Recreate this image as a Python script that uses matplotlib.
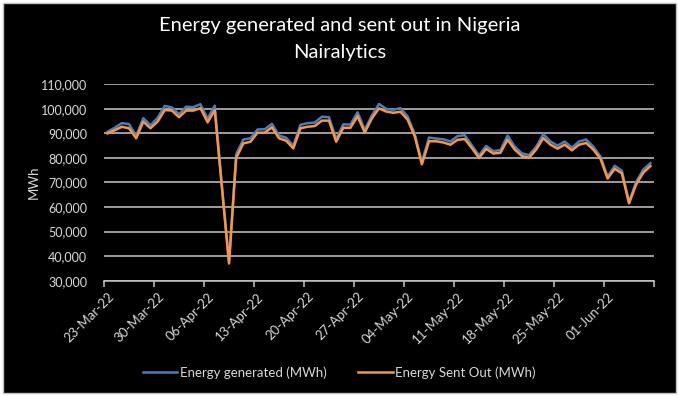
import matplotlib
matplotlib.use('Agg')
import matplotlib.pyplot as plt
from matplotlib.patches import Rectangle
import numpy as np
import pandas as pd

plt.rcParams['font.family'] = ['Lato', 'DejaVu Sans']

# daily values, 23-Mar-22 .. 07-Jun-22
start_date = '2022-03-23'
energy_generated = [
    90700, 92300, 94200, 93800, 89000, 96200, 93300, 96300, 101200, 100600,
    97800, 100900, 100700, 101900, 96000, 101300, 69000, 37600, 81500, 87500,
    88000, 91600, 91700, 93900, 89200, 88200, 85000, 93500, 94200, 94400,
    96800, 96600, 87700, 93700, 93600, 98600, 91400, 97300, 102000, 100000,
    99600, 100300, 96900, 89800, 78300, 88300, 87900, 87600, 86700, 88900,
    89300, 85100, 81000, 84900, 82800, 83200, 89100, 84600, 81900, 81200,
    84500, 89700, 86700, 85000, 86700, 84200, 86700, 87500, 84600, 80600,
    72400, 76800, 74800, 62100, 70200, 75300, 77900,
]
energy_sent_out = [
    90000, 91300, 92700, 92100, 88000, 94800, 92100, 94800, 99500, 99300,
    96600, 99300, 99300, 100300, 94500, 99500, 68000, 37000, 80000, 85900,
    86600, 90300, 90300, 92500, 88000, 87000, 83900, 92100, 92700, 93000,
    95200, 95200, 86600, 92300, 92300, 97000, 90400, 96100, 100200, 98900,
    98400, 98800, 95600, 88800, 77400, 86800, 86800, 86300, 85400, 87400,
    87700, 84000, 80000, 83700, 81800, 82100, 87400, 83400, 80800, 80100,
    83400, 88100, 85400, 83800, 85400, 83100, 85400, 86100, 83400, 79700,
    71600, 75600, 73700, 61500, 69200, 74000, 76700,
]
y_ticks = [30000, 40000, 50000, 60000, 70000, 80000, 90000, 100000, 110000]

dates = pd.date_range(start_date, periods=len(energy_generated), freq='D')
n = len(dates)
x = np.arange(n)
# category axis like Excel: a label every 7th day, tick marks between categories
label_pos = x[::7]
tick_labels = [d.strftime('%d-%b-%y') for d in dates[::7]]
mark_pos = np.append(label_pos, n) - 0.5

fig = plt.figure(figsize=(6.79, 3.96), dpi=100, facecolor='white')
fig.patches.append(Rectangle((0.004, 0.008), 0.992, 0.984, transform=fig.transFigure,
                             facecolor='black', edgecolor='#bfbfbf', linewidth=1, zorder=-10))

ax = fig.add_axes([0.1532, 0.2912, 0.81, 0.4959])
ax.set_zorder(1)
ax.set_facecolor('black')

grid_col = '#c8c8c8'
txt_col = '#d9d9d9'

ax.plot(x, energy_generated, color='#4a7ebb', linewidth=1.8, label='Energy generated (MWh)', zorder=3)
ax.plot(x, energy_sent_out, color='#f79646', linewidth=1.8, label='Energy Sent Out (MWh)', zorder=4)

ax.set_ylim(30000, 110000)
ax.set_yticks(y_ticks)
ax.set_yticklabels(['{:,}'.format(v) for v in y_ticks], color=txt_col, fontsize=9)
ax.yaxis.grid(True, color=grid_col, linewidth=1.1)
ax.set_axisbelow(True)

ax.set_xlim(-0.5, n - 0.5)
ax.set_xticks(label_pos)
ax.set_xticklabels(tick_labels, rotation=45, ha='right', va='top', rotation_mode='anchor',
                   color=txt_col, fontsize=9.5)
ax.set_xticks(mark_pos, minor=True)

for s in ['top', 'right', 'left']:
    ax.spines[s].set_visible(False)
ax.spines['bottom'].set_color(grid_col)
ax.spines['bottom'].set_linewidth(1.1)
ax.tick_params(axis='x', which='major', length=0, pad=7)
ax.tick_params(axis='x', which='minor', direction='out', length=4, color=grid_col, width=1.1)
ax.tick_params(axis='y', length=0, pad=12)

ax.set_ylabel('MWh', color=txt_col, fontsize=9.5, labelpad=1)

fig.text(0.5, 0.935, 'Energy generated and sent out in Nigeria', ha='center', va='center',
         color='white', fontsize=14.5)
fig.text(0.5, 0.868, 'Nairalytics', ha='center', va='center', color='white', fontsize=14.5)

leg = fig.legend(loc='center', bbox_to_anchor=(0.5, 0.06), ncol=2, frameon=False,
                 fontsize=9.5, handlelength=2.6, handletextpad=0.2, columnspacing=2.4)
for t in leg.get_texts():
    t.set_color(txt_col)

fig.savefig('out.png', dpi=100, facecolor='white')
